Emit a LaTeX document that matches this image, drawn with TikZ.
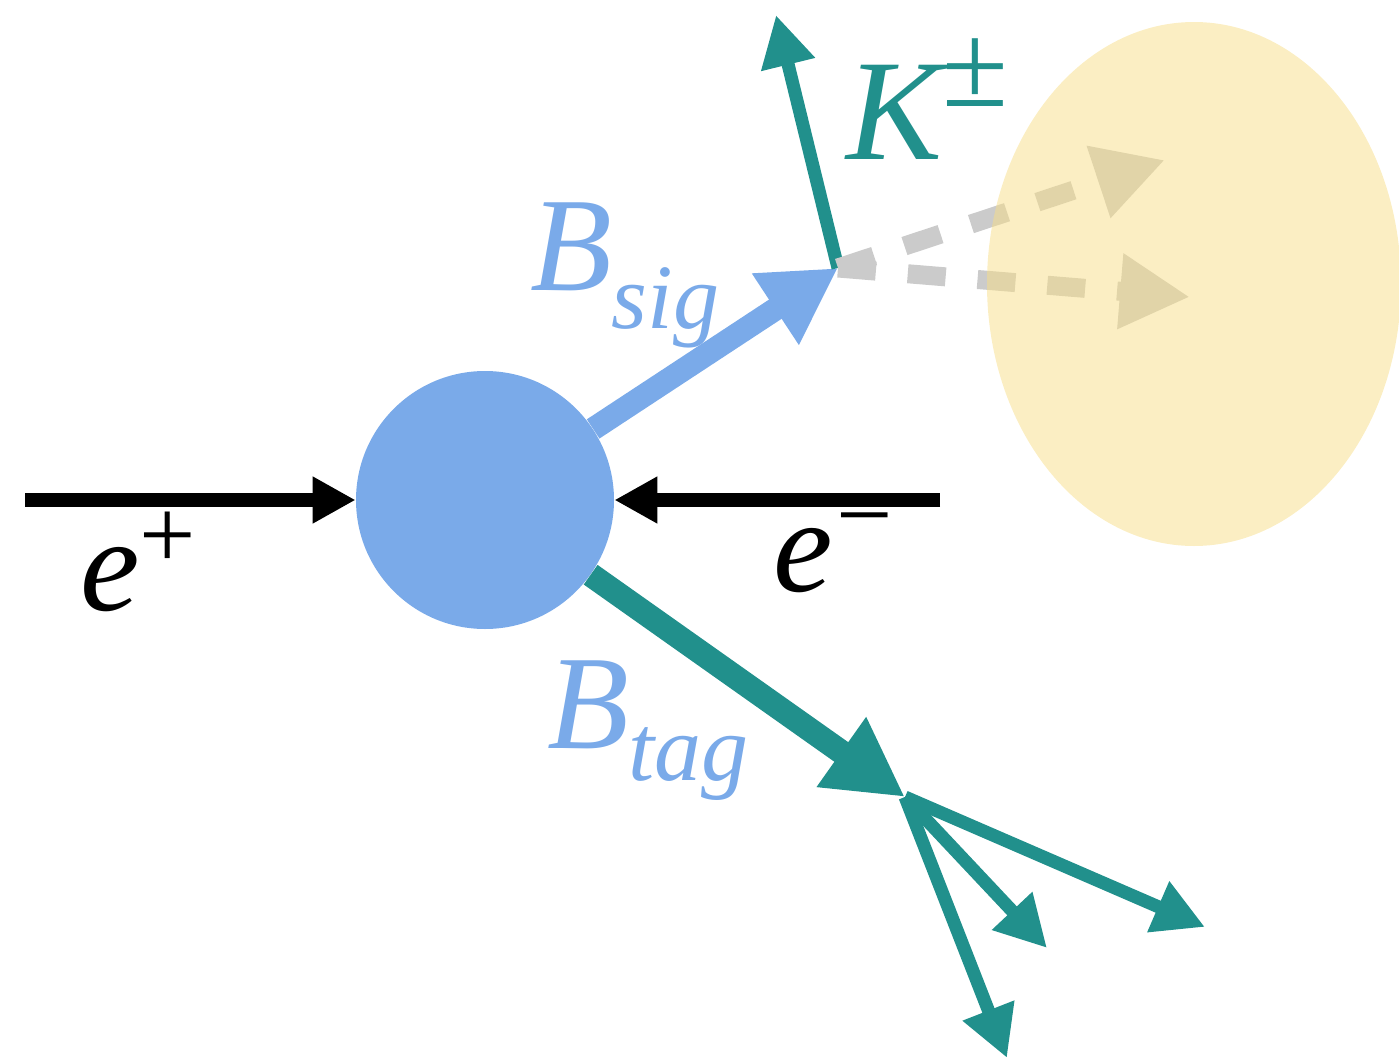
\documentclass[tikz,border=0pt]{standalone}
\usepackage{fontspec}
\setmainfont{Liberation Serif}
\usetikzlibrary{arrows.meta}
\definecolor{ipblue}{RGB}{122,170,233}
\definecolor{tealc}{RGB}{33,144,140}
\definecolor{dashgray}{RGB}{203,203,203}
\definecolor{cloud}{RGB}{247,221,135}
\begin{document}
\begin{tikzpicture}[x=0.5pt,y=-0.5pt,
  lbl/.style={inner sep=0pt, outer sep=0pt, anchor=base west, font=\itshape},
  beam/.style={black, line width=7pt, -{Triangle[length=21.5pt,width=22pt]}},
  sigarrow/.style={ipblue, line width=11.5pt, -{Triangle[length=37.5pt,width=40pt]}},
  tagarrow/.style={tealc, line width=12pt, -{Triangle[length=39pt,width=40pt]}},
  thin track/.style={tealc, line width=6.5pt, -{Triangle[length=25.5pt,width=26pt]}},
  dashline/.style={dashgray, line width=9.5pt, dash pattern=on 19pt off 16pt,
                   -{Triangle[length=35pt,width=35.5pt]}}]
\useasboundingbox (0,0) rectangle (1399,1060);

% interaction point
\node[circle, fill=ipblue, minimum size=129pt, inner sep=0pt] (ip) at (485,500) {};

% coordinates
\coordinate (epS) at (25,500);
\coordinate (emS) at (940,500);
\coordinate (kv) at (838,268);
\coordinate (kT) at (776,15);
\coordinate (tv) at (905,797);
\coordinate (g1) at (1165,160);
\coordinate (g2) at (1190,297);
\coordinate (d1) at (1205,927);
\coordinate (d2) at (1047,948);
\coordinate (d3) at (1007,1058);

% beams
\draw[beam] (epS) -- (ip.west);
\draw[beam] (emS) -- (ip.east);

% B sig and kaon
\draw[sigarrow] (ip) -- (kv);
\draw[thin track] (kv) -- (kT);

% invisible (dashed) tracks
\draw[dashline] (kv) -- (g1);
\draw[dashline] (kv) -- (g2);

% missing-energy cloud
\fill[cloud, opacity=0.5] (1194,284) ellipse [x radius=207, y radius=262];

% B tag and its decay products
\draw[tagarrow] (ip) -- (tv);
\draw[thin track] (tv) -- (d1);
\draw[thin track] (tv) -- (d2);
\draw[thin track] (tv) -- (d3);

% labels
\node[lbl] (lep) at (80,610) {\fontsize{67pt}{67pt}\selectfont e\raisebox{21pt}{\upshape\fontsize{50pt}{50pt}\selectfont +}};
\node[lbl] (lem) at (773,591) {\fontsize{67pt}{67pt}\selectfont e\kern2pt\raisebox{21.5pt}{\upshape\fontsize{50pt}{50pt}\selectfont\char"2212}};
\node[lbl, text=tealc] (lk) at (846,159) {\fontsize{72pt}{72pt}\selectfont K\raisebox{26.5pt}{\upshape\fontsize{60pt}{60pt}\selectfont\char"00B1}};
\node[lbl, text=ipblue] (lbs) at (530,290) {\fontsize{67pt}{67pt}\selectfont B\raisebox{-19pt}{\fontsize{46pt}{46pt}\selectfont sig}};
\node[lbl, text=ipblue] (lbt) at (547,748) {\fontsize{67pt}{67pt}\selectfont B\raisebox{-16pt}{\fontsize{47pt}{47pt}\selectfont tag}};
\end{tikzpicture}
\end{document}
